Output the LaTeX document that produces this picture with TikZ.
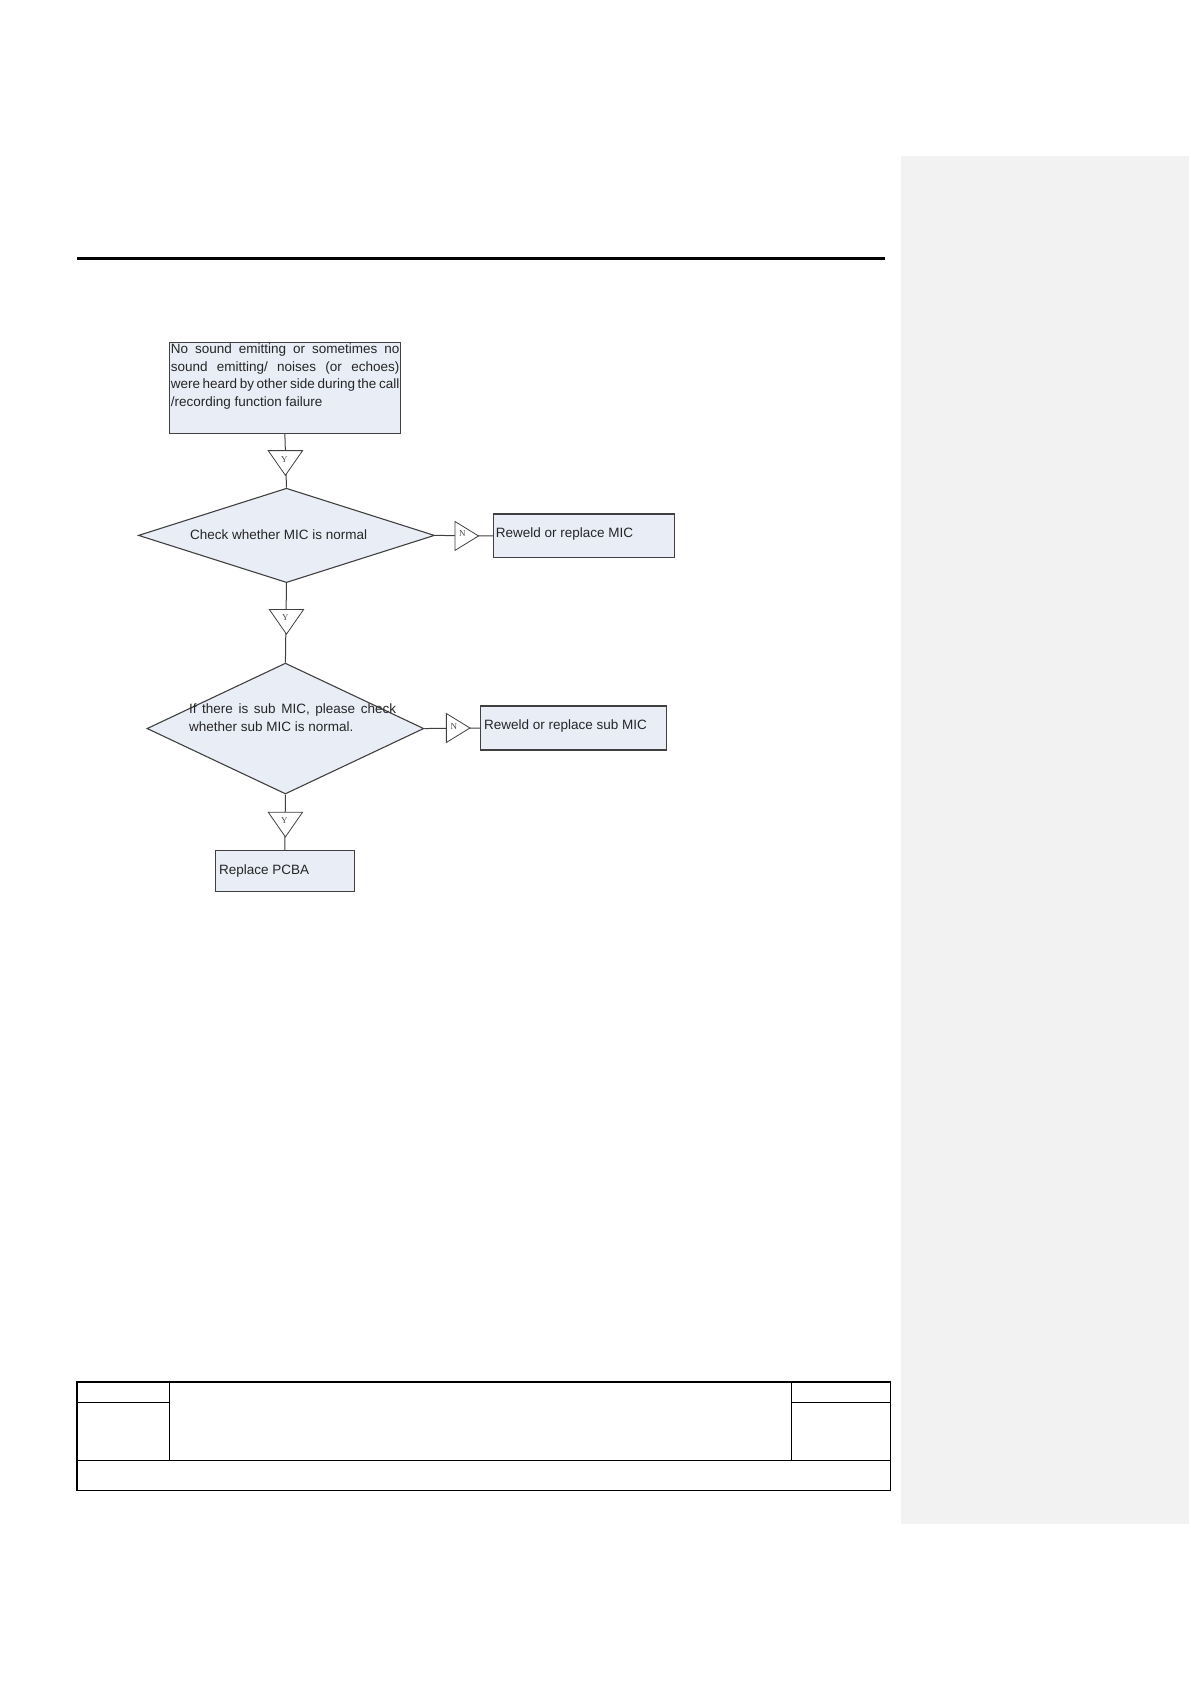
\documentclass[tikz,border=0pt]{standalone}
\usepackage{fontspec}
\setmainfont{Liberation Sans}
\newfontfamily\serifY{Liberation Serif}
\usetikzlibrary{shapes.geometric}
\definecolor{boxfill}{HTML}{E9EDF6}
\definecolor{panel}{HTML}{F2F2F2}
\tikzset{
  flowbox/.style={draw=black!75,fill=boxfill,line width=1.1pt,inner sep=0pt},
  flowdia/.style={draw=black!75,fill=boxfill,line width=1.1pt,shape=diamond,inner sep=0pt},
  conn/.style={draw=black!75,line width=1pt},
  tri/.style={draw=black!75,fill=white,line width=0.8pt},
  trilab/.style={font=\serifY\fontsize{9}{9}\selectfont,inner sep=0pt,text=black!70},
  txt/.style={font=\fontsize{13.5}{17.7}\selectfont,text=black!85,inner sep=0pt},
  tab/.style={draw=black,line width=1.6pt},
  tabthin/.style={draw=black,line width=0.8pt}
}
\begin{document}
\begin{tikzpicture}[x=1.073pt,y=-1.073pt]
\useasboundingbox (0,0) rectangle (1110,1569.5);
\fill[panel] (840,145) rectangle (1108,1420);
\draw[line width=3.2pt] (72,241) -- (825,241);
% boxes
\node[flowbox,minimum width=215*1.073pt,minimum height=85*1.073pt] (b1) at (265.5,361.5) {};
\node[txt,text width=213*1.073pt,align=justify,anchor=north west] (t1) at (159,320) {No sound emitting or sometimes no sound emitting/ noises (or echoes) were heard by other side during the call /recording function failure};
\node[flowdia,minimum width=276*1.073pt,minimum height=88*1.073pt] (d1) at (267,499) {};
\node[txt,anchor=west] (t2) at (177,498) {Check whether MIC is normal};
\node[flowbox,minimum width=169*1.073pt,minimum height=41*1.073pt] (r1) at (544.5,499.5) {};
\node[txt,anchor=west] (t3) at (462,498) {Reweld or replace MIC};
\node[flowdia,minimum width=258*1.073pt,minimum height=122*1.073pt] (d2) at (266,679) {};
\node[txt,text width=193*1.073pt,align=justify,anchor=north west] (t4) at (176,656) {If there is sub MIC, please check whether sub MIC is normal.};
\node[flowbox,minimum width=173*1.073pt,minimum height=41*1.073pt] (r2) at (534.5,678.5) {};
\node[txt,anchor=west] (t5) at (451,677) {Reweld or replace sub MIC};
\node[flowbox,minimum width=129*1.073pt,minimum height=38*1.073pt] (r3) at (265.5,812) {};
\node[txt,anchor=west] (t6) at (204,812) {Replace PCBA};
% connectors
\draw[conn] (b1.south) -- (d1.north);
\draw[conn] (d1.east) -- (r1.west);
\draw[conn] (d1.south) -- (d2.north);
\draw[conn] (d2.east) -- (r2.west);
\draw[conn] (d2.south) -- (r3.north);
% Y / N markers
\draw[tri] (250,420) -- (282,420) -- (266,443) -- cycle;
\node[trilab] (y1) at (265,428) {Y};
\draw[tri] (251,568) -- (283,568) -- (267,591) -- cycle;
\node[trilab] (y2) at (266,576) {Y};
\draw[tri] (250,757) -- (282,757) -- (266,780) -- cycle;
\node[trilab] (y3) at (265,765) {Y};
\draw[tri] (424,486) -- (424,513) -- (446,499.5) -- cycle;
\node[trilab] (n1) at (431,497) {N};
\draw[tri] (416,665) -- (416,692) -- (438,678.5) -- cycle;
\node[trilab] (n2) at (423,677) {N};
% footer table
\draw[tab] (72,1288) rectangle (830,1389);
\draw[tab] (72,1361) -- (830,1361);
\draw[tabthin] (158,1288) -- (158,1361);
\draw[tabthin] (738,1288) -- (738,1361);
\draw[tab] (72,1307) -- (158,1307);
\draw[tab] (738,1307) -- (830,1307);
\end{tikzpicture}
\end{document}
